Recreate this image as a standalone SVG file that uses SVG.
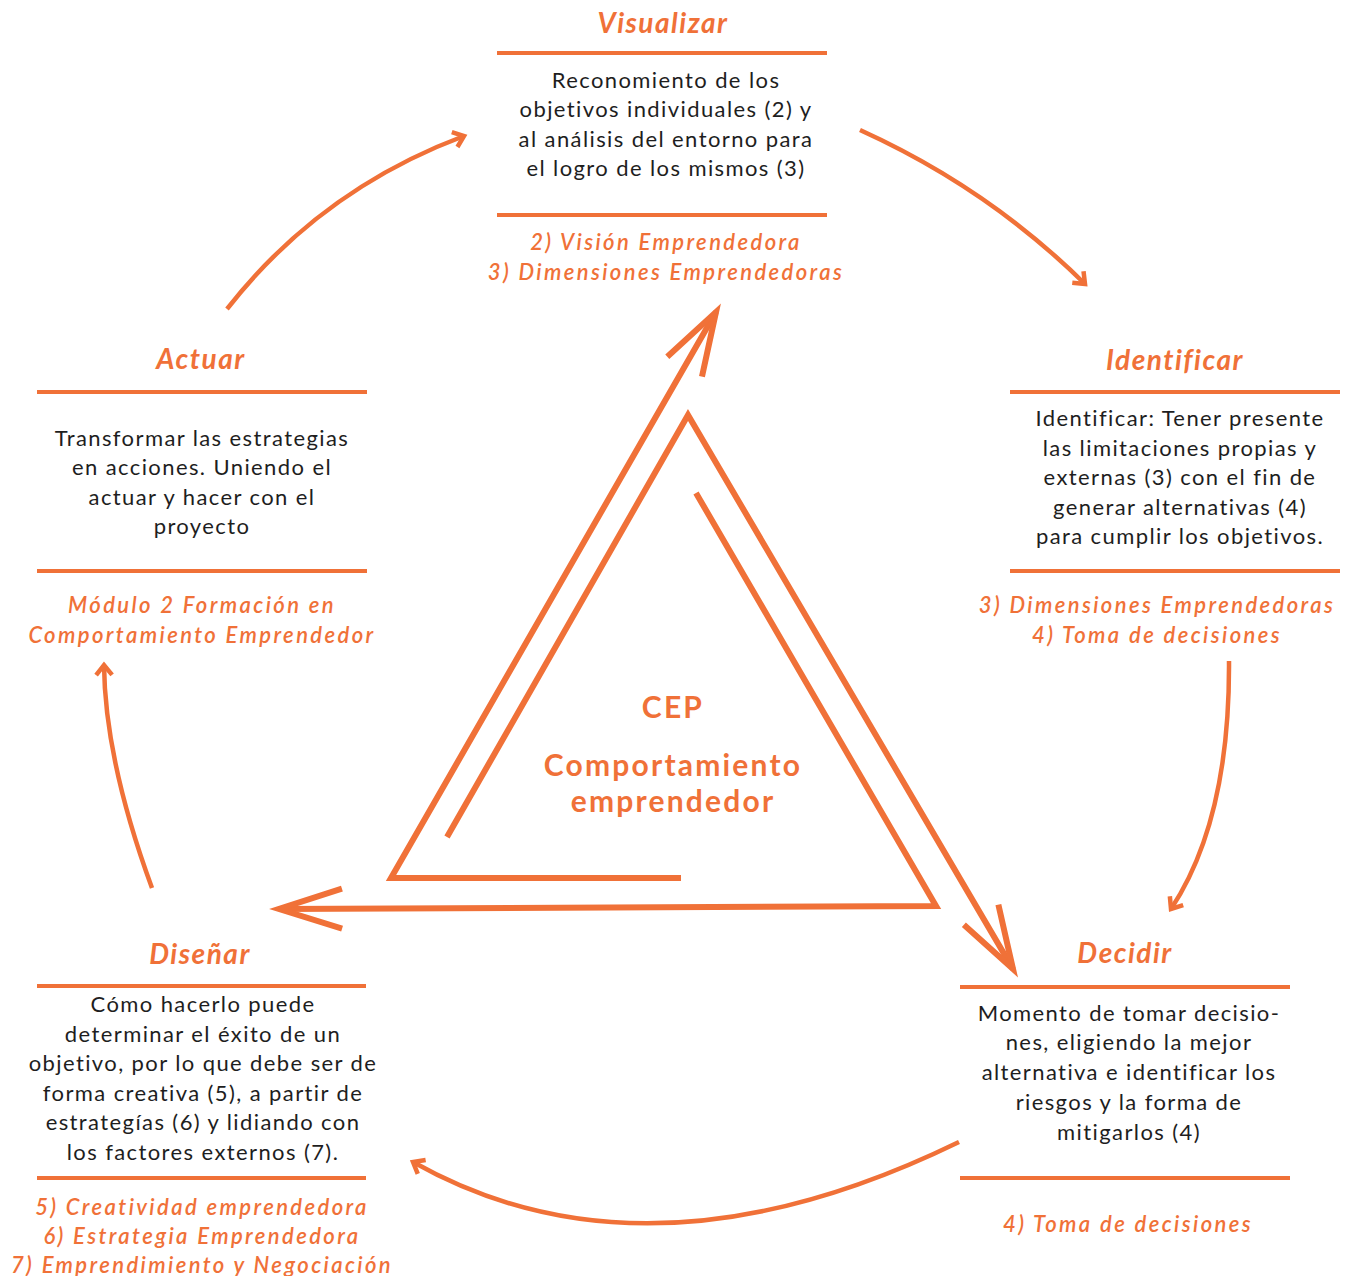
<svg xmlns="http://www.w3.org/2000/svg" width="1349" height="1276" viewBox="0 0 1349 1276">
<defs>
<style>
.title{font-family:Lato,"Open Sans",sans-serif;font-style:italic;font-weight:700;font-size:28px;fill:#F07138;text-anchor:middle;letter-spacing:1.5px}
.body{font-family:Lato,"Open Sans",sans-serif;font-size:22px;fill:#1E1E1E;text-anchor:middle;letter-spacing:1.4px}
.ref{font-family:Lato,"Open Sans",sans-serif;font-style:italic;font-weight:600;font-size:22px;fill:#F07138;text-anchor:middle;letter-spacing:2.4px}
.center{font-family:Lato,"Open Sans",sans-serif;font-weight:700;font-size:30px;fill:#F07138;text-anchor:middle;letter-spacing:2.2px}
.sep{stroke:#F07138;stroke-width:4;fill:none}
.tri{stroke:#F07138;stroke-width:6;fill:none;stroke-linejoin:miter;stroke-linecap:butt}
.cyc{stroke:#F07138;stroke-width:4.5;fill:none;stroke-linecap:butt}
</style>
<marker id="bigArrow" markerUnits="userSpaceOnUse" markerWidth="90" markerHeight="60" viewBox="-80 -30 90 60" refX="0" refY="0" orient="auto">
<path d="M-63,-20 L0,0 L-63,20" fill="none" stroke="#F07138" stroke-width="6" stroke-linejoin="miter"/>
</marker>
<marker id="smallArrow" markerUnits="userSpaceOnUse" markerWidth="30" markerHeight="30" viewBox="-20 -15 30 30" refX="0" refY="0" orient="auto">
<path d="M-10,-8 L0,0 L-10,8" fill="none" stroke="#F07138" stroke-width="4.5" stroke-linejoin="miter"/>
</marker>
</defs>
<rect width="1349" height="1276" fill="#FFFFFF"/>

<g id="connectors">
<path class="tri" d="M681,878 L391,878 L716,312" marker-end="url(#bigArrow)"/>
<path class="tri" d="M447,837 L688,415 L1013,969" marker-end="url(#bigArrow)"/>
<path class="tri" d="M696,493 L936,906 L279,909" marker-end="url(#bigArrow)"/>
<path class="cyc" d="M227,309 Q320,190 464,136" marker-end="url(#smallArrow)"/>
<path class="cyc" d="M860,130 Q988,188 1085,284" marker-end="url(#smallArrow)"/>
<path class="cyc" d="M1229,661 Q1230,820 1171,909" marker-end="url(#smallArrow)"/>
<path class="cyc" d="M959,1142 Q647,1294 413,1162" marker-end="url(#smallArrow)"/>
<path class="cyc" d="M152,888 Q105,760 104,665" marker-end="url(#smallArrow)"/>
</g>

<g id="cep">
<text class="center" x="673" y="718">CEP</text>
<text class="center" x="673" y="776">Comportamiento</text>
<text class="center" x="673" y="812">emprendedor</text>
</g>

<g id="visualizar">
<text class="title" x="663" y="33">Visualizar</text>
<line class="sep" x1="497" y1="53" x2="827" y2="53"/>
<text class="body" x="666" y="88">Reconomiento de los</text>
<text class="body" x="666" y="117">objetivos individuales (2) y</text>
<text class="body" x="666" y="147">al análisis del entorno para</text>
<text class="body" x="666" y="176">el logro de los mismos (3)</text>
<line class="sep" x1="497" y1="215" x2="827" y2="215"/>
<text class="ref" x="666" y="250">2) Visión Emprendedora</text>
<text class="ref" x="666" y="280">3) Dimensiones Emprendedoras</text>
</g>

<g id="identificar">
<text class="title" x="1175" y="370">Identificar</text>
<line class="sep" x1="1010" y1="392" x2="1340" y2="392"/>
<text class="body" x="1180" y="426">Identificar: Tener presente</text>
<text class="body" x="1180" y="456">las limitaciones propias y</text>
<text class="body" x="1180" y="485">externas (3) con el fin de</text>
<text class="body" x="1180" y="515">generar alternativas (4)</text>
<text class="body" x="1180" y="544">para cumplir los objetivos.</text>
<line class="sep" x1="1010" y1="571" x2="1340" y2="571"/>
<text class="ref" x="1157" y="613">3) Dimensiones Emprendedoras</text>
<text class="ref" x="1157" y="643">4) Toma de decisiones</text>
</g>

<g id="decidir">
<text class="title" x="1125" y="963">Decidir</text>
<line class="sep" x1="960" y1="987" x2="1290" y2="987"/>
<text class="body" x="1129" y="1021">Momento de tomar decisio-</text>
<text class="body" x="1129" y="1050">nes, eligiendo la mejor</text>
<text class="body" x="1129" y="1080">alternativa e identificar los</text>
<text class="body" x="1129" y="1110">riesgos y la forma de</text>
<text class="body" x="1129" y="1140">mitigarlos (4)</text>
<line class="sep" x1="960" y1="1178" x2="1290" y2="1178"/>
<text class="ref" x="1128" y="1232">4) Toma de decisiones</text>
</g>

<g id="disenar">
<text class="title" x="200" y="964">Diseñar</text>
<line class="sep" x1="37" y1="986" x2="366" y2="986"/>
<text class="body" x="203" y="1012">Cómo hacerlo puede</text>
<text class="body" x="203" y="1042">determinar el éxito de un</text>
<text class="body" x="203" y="1071">objetivo, por lo que debe ser de</text>
<text class="body" x="203" y="1101">forma creativa (5), a partir de</text>
<text class="body" x="203" y="1130">estrategías (6) y lidiando con</text>
<text class="body" x="203" y="1160">los factores externos (7).</text>
<line class="sep" x1="37" y1="1178" x2="366" y2="1178"/>
<text class="ref" x="202" y="1215">5) Creatividad emprendedora</text>
<text class="ref" x="202" y="1244">6) Estrategia Emprendedora</text>
<text class="ref" x="202" y="1273">7) Emprendimiento y Negociación</text>
</g>

<g id="actuar">
<text class="title" x="201" y="369">Actuar</text>
<line class="sep" x1="37" y1="392" x2="367" y2="392"/>
<text class="body" x="202" y="446">Transformar las estrategias</text>
<text class="body" x="202" y="475">en acciones. Uniendo el</text>
<text class="body" x="202" y="505">actuar y hacer con el</text>
<text class="body" x="202" y="534">proyecto</text>
<line class="sep" x1="37" y1="571" x2="367" y2="571"/>
<text class="ref" x="202" y="613">Módulo 2 Formación en</text>
<text class="ref" x="202" y="643">Comportamiento Emprendedor</text>
</g>
</svg>
